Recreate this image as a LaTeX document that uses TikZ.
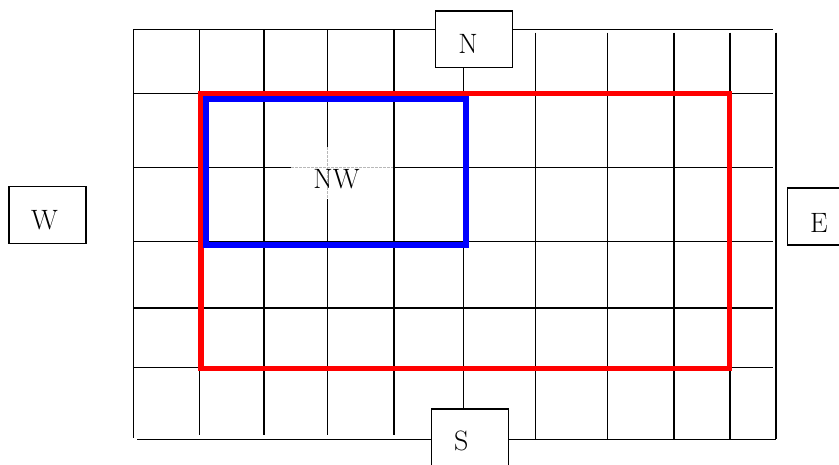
\documentclass[tikz,border=0pt]{standalone}
\begin{document}
\begin{tikzpicture}[x=1pt,y=-1pt,
  gridline/.style={line width=1.5pt,black},
  compassbox/.style={draw,line width=1.5pt,fill=white,minimum width=77pt,minimum height=56.7pt,inner sep=0pt},
  lbl/.style={font=\fontsize{28}{34}\selectfont,inner sep=0pt},
  redframe/.style={draw=red,line width=5.3pt},
  blueframe/.style={draw=blue,line width=5.6pt},
  guide/.style={draw=black!28,line width=1.5pt,dash pattern=on 3pt off 1pt}]
\useasboundingbox (0,0) rectangle (839,464);
\clip (0,0) rectangle (839,464);
% grid
\foreach \y in {29.3,93.3,167.3,241.7,308,367.3}
  \draw[gridline] (133.3,\y) -- (772.7,\y);
\draw[gridline] (137.3,439.3) -- (776,439.3);
\draw[gridline] (133.3,29.3) -- (133.3,438.3);
\foreach \x in {199.3,264,327.7,394}
  \draw[gridline] (\x,29.3) -- (\x,435);
\draw[gridline] (463.3,29.3) -- (463.3,439.3);
\foreach \x in {535.7,607.7,674,730,776}
  \draw[gridline] (\x,32.7) -- (\x,439.3);
% frames
\draw[redframe] (201,93.3) rectangle (729.5,368.5);
\draw[blueframe] (205.8,99.2) rectangle (465.8,245.2);
% NW label
\node[fill=white,minimum width=102pt,minimum height=52pt,inner sep=0pt] (NWbox) at (342,173) {};
\draw[guide] (291,167.3) -- (393,167.3);
\draw[guide] (327.7,147) -- (327.7,199);
\node[lbl] (NW) at (336.5,179) {NW};
% compass boxes
\node[compassbox] (N) at (473.8,39.3) {};
\node[compassbox] (S) at (470,437.3) {};
\node[compassbox] (W) at (47.7,215) {};
\node[compassbox] (E) at (826.2,216.5) {};
\node[lbl] (Nt) at (468,44) {N};
\node[lbl] (St) at (461.3,441) {S};
\node[lbl] (Wt) at (44.5,220.5) {W};
\node[lbl] (Et) at (819,223) {E};
\end{tikzpicture}
\end{document}
